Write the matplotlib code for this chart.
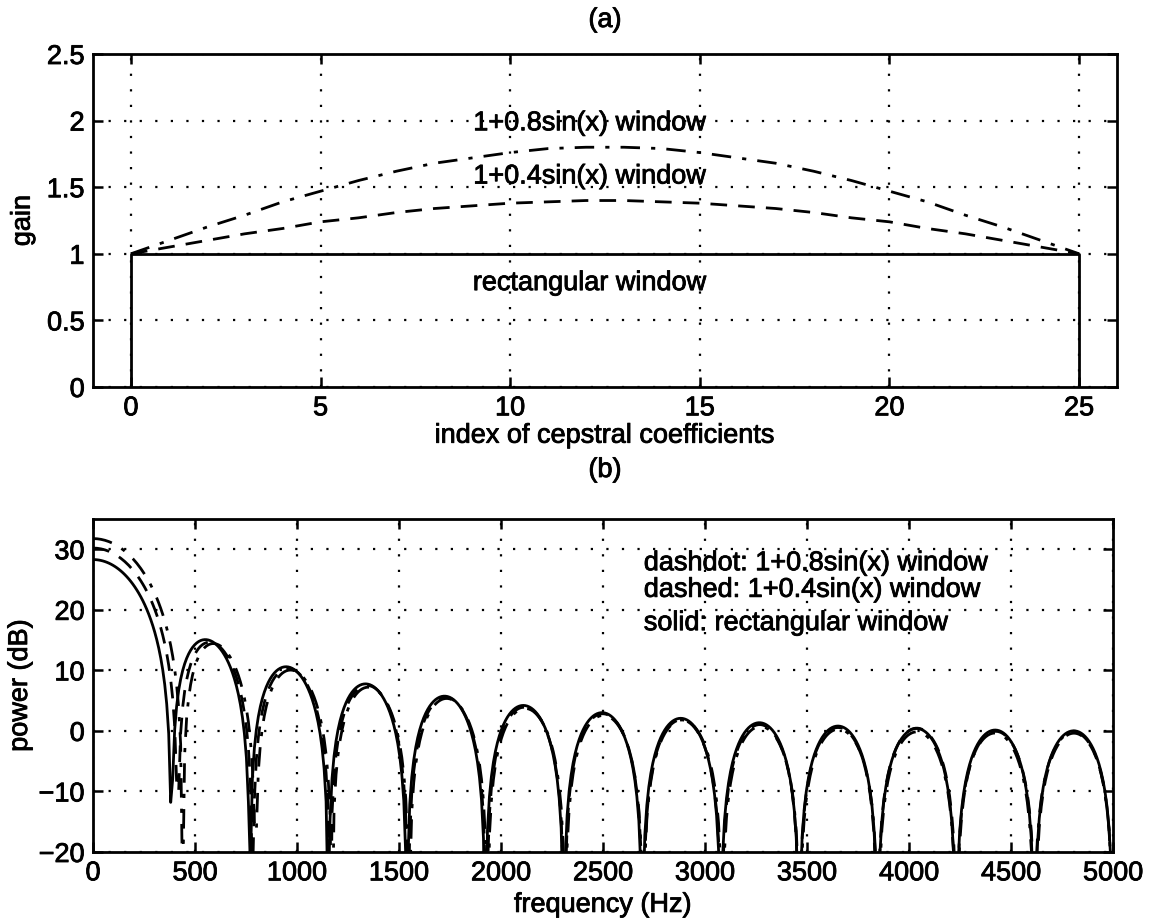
import numpy as np
import matplotlib
matplotlib.use("Agg")
import matplotlib.pyplot as plt
import matplotlib.patheffects as pe

plt.rcParams['font.family'] = ['Liberation Sans', 'DejaVu Sans']

# cepstral window values, index 0..25
idx = list(range(26))
rect_win = [1.0] * 26
win_04 = [1.00, 1.05, 1.10, 1.15, 1.19, 1.24, 1.27, 1.31, 1.34, 1.36, 1.38, 1.39, 1.40,
          1.40, 1.39, 1.38, 1.36, 1.34, 1.31, 1.27, 1.24, 1.19, 1.15, 1.10, 1.05, 1.00]
win_08 = [1.00, 1.10, 1.20, 1.29, 1.39, 1.47, 1.55, 1.62, 1.68, 1.72, 1.76, 1.79, 1.80,
          1.80, 1.79, 1.76, 1.72, 1.68, 1.62, 1.55, 1.47, 1.39, 1.29, 1.20, 1.10, 1.00]

fs = 10000
nfft = 1024

def power_db(w):
    spec = np.abs(np.fft.rfft(np.array(w), nfft))
    return 20 * np.log10(np.maximum(spec, 1e-6))

freq = np.fft.rfftfreq(nfft, 1.0 / fs)

fig = plt.figure(figsize=(11.5, 9.23), dpi=100)
ax1 = fig.add_axes([93 / 1150, 1 - 387 / 923, 1024 / 1150, 333 / 923])
ax2 = fig.add_axes([93 / 1150, 1 - 852 / 923, 1020 / 1150, 333 / 923])

fs_txt = 19.5
lw = 2.0
thick = [pe.withStroke(linewidth=0.6, foreground='k')]
tk = dict(fontsize=fs_txt, path_effects=thick)

# (a)
ax1.plot([0] + idx + [25], [0] + rect_win + [0], 'k-', lw=lw)
ax1.plot(idx, win_04, 'k--', lw=lw, dashes=(6, 4))
ax1.plot(idx, win_08, 'k-.', lw=lw, dashes=(7, 4, 1.5, 4))
ax1.set_xlim(-1, 26)
ax1.set_ylim(0, 2.5)
ax1.set_xticks([0, 5, 10, 15, 20, 25])
ax1.set_yticks([0, 0.5, 1, 1.5, 2, 2.5])
ax1.set_yticklabels(['0', '0.5', '1', '1.5', '2', '2.5'])
ax1.set_xlabel('index of cepstral coefficients', labelpad=1, **tk)
ax1.set_ylabel('gain', labelpad=8, **tk)
ax1.text(12.1, 1.98, '1+0.8sin(x) window', ha='center', va='center', **tk)
ax1.text(12.1, 1.58, '1+0.4sin(x) window', ha='center', va='center', **tk)
ax1.text(12.1, 0.78, 'rectangular window', ha='center', va='center', **tk)
fig.text(605 / 1150, 1 - 20 / 923, '(a)', ha='center', va='center', **tk)

# (b)
ax2.plot(freq, power_db(rect_win), 'k-', lw=lw)
ax2.plot(freq, power_db(win_04), 'k--', lw=lw, dashes=(6, 4))
ax2.plot(freq, power_db(win_08), 'k-.', lw=lw, dashes=(7, 4, 1.5, 4))
ax2.set_xlim(0, 5000)
ax2.set_ylim(-20, 35)
ax2.set_xticks(np.arange(0, 5001, 500))
ax2.set_yticks([-20, -10, 0, 10, 20, 30])
ax2.set_yticklabels(['\u221220', '\u221210', '0', '10', '20', '30'])
ax2.set_xlabel('frequency (Hz)', labelpad=4, **tk)
ax2.set_ylabel('power (dB)', labelpad=4, **tk)
fig.text(605 / 1150, 1 - 470 / 923, '(b)', ha='center', va='center', **tk)
ax2.text(2700, 27.7, 'dashdot: 1+0.8sin(x) window', ha='left', va='center', **tk)
ax2.text(2700, 23.3, 'dashed: 1+0.4sin(x) window', ha='left', va='center', **tk)
ax2.text(2700, 17.8, 'solid: rectangular window', ha='left', va='center', **tk)

for ax in (ax1, ax2):
    ax.grid(True, color='k', linestyle=(0, (1, 6)), linewidth=1.6)
    ax.tick_params(direction='in', length=7, width=1.8, labelsize=fs_txt, pad=6,
                   top=True, right=True)
    for lab in ax.get_xticklabels() + ax.get_yticklabels():
        lab.set_path_effects(thick)
    for s in ax.spines.values():
        s.set_linewidth(2.0)

fig.savefig('out.png', dpi=100)
